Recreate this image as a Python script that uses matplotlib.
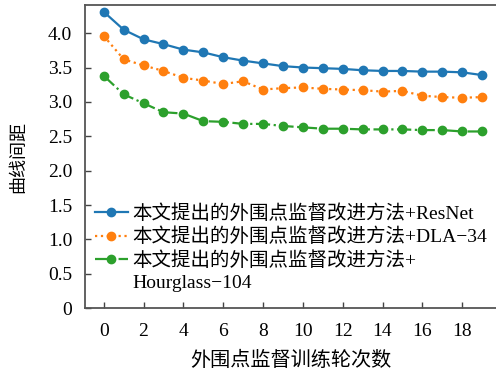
import matplotlib
matplotlib.use("Agg")
import matplotlib.pyplot as plt
from matplotlib.lines import Line2D

plt.rcParams['font.family'] = ['Liberation Serif', 'Noto Sans CJK SC']
plt.rcParams['axes.unicode_minus'] = True

epochs = list(range(20))
resnet = [4.31, 4.05, 3.91, 3.84, 3.76, 3.72, 3.65, 3.60, 3.56, 3.52,
          3.50, 3.49, 3.48, 3.46, 3.45, 3.45, 3.44, 3.44, 3.43, 3.39]
dla34 = [3.96, 3.62, 3.53, 3.45, 3.35, 3.31, 3.26, 3.30, 3.18, 3.20,
         3.21, 3.19, 3.18, 3.17, 3.15, 3.16, 3.09, 3.07, 3.06, 3.07]
hourglass = [3.38, 3.11, 2.98, 2.85, 2.83, 2.72, 2.71, 2.68, 2.68, 2.65,
             2.63, 2.61, 2.61, 2.60, 2.60, 2.60, 2.59, 2.59, 2.57, 2.57]
labels = ['本文提出的外围点监督改进方法+ResNet',
          '本文提出的外围点监督改进方法+DLA\u221234',
          '本文提出的外围点监督改进方法+',
          'Hourglass\u2212104']
xticks = list(range(0, 19, 2))
yticks = [0, 0.5, 1.0, 1.5, 2.0, 2.5, 3.0, 3.5, 4.0]
ytick_labels = ['0', '0.5', '1.0', '1.5', '2.0', '2.5', '3.0', '3.5', '4.0']

fig = plt.figure(figsize=(4.96, 3.8), dpi=100)
ax = fig.add_axes([0.171, 0.189, 0.829, 0.798])

l1, = ax.plot(epochs, resnet, color='#1f77b4', linestyle='-', marker='o', markersize=6, linewidth=1.6)
l2, = ax.plot(epochs, dla34, color='#ff7f0e', linestyle=':', marker='o', markersize=6, linewidth=1.6)
l3, = ax.plot(epochs, hourglass, color='#2ca02c', linestyle='-.', marker='o', markersize=6, linewidth=1.6)
blank = Line2D([], [], linestyle='none', marker=None)

ax.set_xlim(-0.95, 19.7)
ax.set_ylim(0, 4.41)
ax.set_xticks(xticks)
ax.set_yticks(yticks)
ax.set_yticklabels(ytick_labels)
ax.tick_params(direction='in', labelsize=14, length=4, color='#444444', width=1.0)
ax.tick_params(axis='x', pad=11)
ax.tick_params(axis='y', pad=9)
ax.spines['right'].set_visible(False)
for s in ['left', 'bottom', 'top']:
    ax.spines[s].set_color('#555555')
    ax.spines[s].set_linewidth(1.3)

ax.set_xlabel('外围点监督训练轮次数', fontsize=14.5, labelpad=8)
ax.set_ylabel('曲线间距', fontsize=13, labelpad=15)

leg = ax.legend([l1, l2, l3, blank], labels, loc='lower left', bbox_to_anchor=(0.0, 0.02),
                frameon=False, fontsize=14, handlelength=1.7, handletextpad=0.25,
                labelspacing=0.25, borderaxespad=0.1)

fig.savefig('out.png', dpi=100)
